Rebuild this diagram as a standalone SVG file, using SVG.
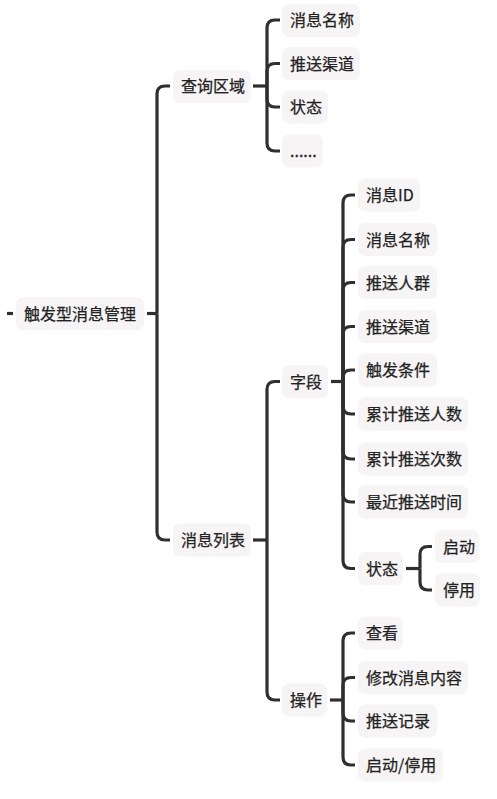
<svg xmlns="http://www.w3.org/2000/svg" width="497" height="799" viewBox="0 0 497 799">
<style>
.b{fill:#f6f4f4}
.t{font-family:"Noto Sans CJK SC","PingFang SC",sans-serif;font-size:16px;fill:#222222;stroke:#222222;stroke-width:0.25}
.c{fill:none;stroke:#2f2f2f;stroke-width:3.2}
</style>
<rect width="497" height="799" fill="#ffffff"/>
<g id="connectors" class="c">
<path d="M7 313.5H13"/>
<path d="M147 313.5H157"/>
<path d="M157 313.5V94Q157 86 165 86H170"/>
<path d="M157 313.5V532Q157 540 165 540H170"/>
<path d="M253 86H267"/>
<path d="M267 86V28Q267 20 275 20H280"/>
<path d="M267 86V71.5Q267 63.5 275 63.5H280"/>
<path d="M267 86V99Q267 107 275 107H280"/>
<path d="M267 86V143Q267 151 275 151H280"/>
<path d="M253 540H267"/>
<path d="M267 540V389.5Q267 381.5 275 381.5H280"/>
<path d="M267 540V692Q267 700 275 700H280"/>
<path d="M331 381.5H343"/>
<path d="M343 381.5V203Q343 195 351 195H355"/>
<path d="M343 381.5V247.5Q343 239.5 351 239.5H355"/>
<path d="M343 381.5V290.5Q343 282.5 351 282.5H355"/>
<path d="M343 381.5V334.5Q343 326.5 351 326.5H355"/>
<path d="M343 381.5V378Q343 370 351 370H355"/>
<path d="M343 381.5V406Q343 414 351 414H355"/>
<path d="M343 381.5V451Q343 459 351 459H355"/>
<path d="M343 381.5V494Q343 502 351 502H355"/>
<path d="M343 381.5V560.5Q343 568.5 351 568.5H355"/>
<path d="M406 568.5H420"/>
<path d="M420 568.5V554.5Q420 546.5 428 546.5H432"/>
<path d="M420 568.5V582Q420 590 428 590H432"/>
<path d="M330 700H343"/>
<path d="M343 700V641Q343 633 351 633H355"/>
<path d="M343 700V685.5Q343 677.5 351 677.5H355"/>
<path d="M343 700V713Q343 721 351 721H355"/>
<path d="M343 700V757Q343 765 351 765H355"/>
</g>
<g id="root"><rect class="b" x="16" y="297" width="128" height="33" rx="7"/><text class="t" x="24" y="319.5">触发型消息管理</text></g>
<g id="query"><rect class="b" x="173" y="70" width="78" height="33" rx="7"/><text class="t" x="181" y="92">查询区域</text></g>
<g id="q-name"><rect class="b" x="282" y="4" width="78" height="33" rx="7"/><text class="t" x="290" y="26">消息名称</text></g>
<g id="q-channel"><rect class="b" x="282" y="47" width="78" height="33" rx="7"/><text class="t" x="290" y="69.5">推送渠道</text></g>
<g id="q-status"><rect class="b" x="282" y="90.5" width="46" height="33" rx="7"/><text class="t" x="290" y="113">状态</text></g>
<g id="q-more"><rect class="b" x="282" y="134.5" width="41" height="33" rx="7"/><text class="t" x="290" y="157" font-family="Liberation Sans,sans-serif">......</text></g>
<g id="list"><rect class="b" x="173" y="523.5" width="78" height="33" rx="7"/><text class="t" x="181" y="546">消息列表</text></g>
<g id="fields"><rect class="b" x="282" y="365" width="46" height="33" rx="7"/><text class="t" x="290" y="387.5">字段</text></g>
<g id="f-id"><rect class="b" x="358" y="178.5" width="62" height="33" rx="7"/><text class="t" x="366" y="201">消息ID</text></g>
<g id="f-name"><rect class="b" x="358" y="223" width="79" height="33" rx="7"/><text class="t" x="366" y="245.5">消息名称</text></g>
<g id="f-crowd"><rect class="b" x="358" y="266" width="79" height="33" rx="7"/><text class="t" x="366" y="288.5">推送人群</text></g>
<g id="f-channel"><rect class="b" x="358" y="310" width="79" height="33" rx="7"/><text class="t" x="366" y="332.5">推送渠道</text></g>
<g id="f-trigger"><rect class="b" x="358" y="353.5" width="79" height="33" rx="7"/><text class="t" x="366" y="376">触发条件</text></g>
<g id="f-people"><rect class="b" x="358" y="397.5" width="110" height="33" rx="7"/><text class="t" x="366" y="420">累计推送人数</text></g>
<g id="f-times"><rect class="b" x="358" y="442.5" width="110" height="33" rx="7"/><text class="t" x="366" y="465">累计推送次数</text></g>
<g id="f-recent"><rect class="b" x="358" y="485.5" width="110" height="33" rx="7"/><text class="t" x="366" y="508">最近推送时间</text></g>
<g id="f-status"><rect class="b" x="358" y="552" width="45" height="33" rx="7"/><text class="t" x="366" y="574.5">状态</text></g>
<g id="s-on"><rect class="b" x="435" y="530" width="44" height="33" rx="7"/><text class="t" x="443" y="552.5">启动</text></g>
<g id="s-off"><rect class="b" x="435" y="573.5" width="45" height="33" rx="7"/><text class="t" x="443" y="596">停用</text></g>
<g id="ops"><rect class="b" x="282" y="683.5" width="45" height="33" rx="7"/><text class="t" x="290" y="706">操作</text></g>
<g id="o-view"><rect class="b" x="358" y="616.5" width="45" height="33" rx="7"/><text class="t" x="366" y="639">查看</text></g>
<g id="o-edit"><rect class="b" x="358" y="661" width="110" height="33" rx="7"/><text class="t" x="366" y="683.5">修改消息内容</text></g>
<g id="o-record"><rect class="b" x="358" y="704.5" width="79" height="33" rx="7"/><text class="t" x="366" y="727">推送记录</text></g>
<g id="o-toggle"><rect class="b" x="358" y="748.5" width="85" height="33" rx="7"/><text class="t" x="366" y="771">启动/停用</text></g>
</svg>
